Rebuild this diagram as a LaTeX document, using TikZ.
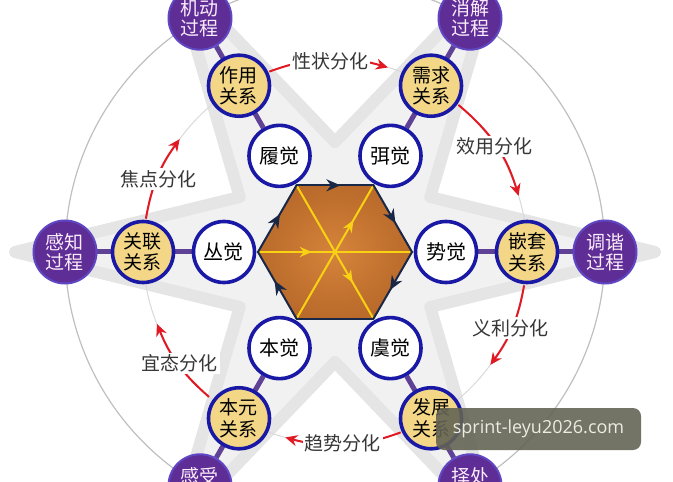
\documentclass[tikz,border=0pt]{standalone}
\usepackage{fontspec}
\newfontfamily\cjk{Noto Sans CJK SC}
\newfontfamily\wmfont{Open Sans}
\usetikzlibrary{arrows.meta,decorations.markings,backgrounds}

\definecolor{jueblue}{RGB}{25,25,165}
\definecolor{gxyellow}{RGB}{243,215,135}
\definecolor{gcpurple}{RGB}{95,45,150}
\definecolor{gcedge}{RGB}{95,70,195}
\definecolor{gctext}{RGB}{250,236,250}
\definecolor{spokepurple}{RGB}{95,65,150}
\definecolor{hexin}{RGB}{212,132,58}
\definecolor{hexout}{RGB}{186,106,42}
\definecolor{hexedge}{RGB}{25,40,70}
\definecolor{hexyellow}{RGB}{250,210,20}
\definecolor{redarrow}{RGB}{225,25,35}
\definecolor{labelgray}{RGB}{55,55,55}
\definecolor{wmgray}{RGB}{100,100,85}
\definecolor{wmtext}{RGB}{236,236,226}

\begin{document}
\begin{tikzpicture}[x=0.5pt,y=0.5pt,
		jue/.style={circle,draw=jueblue,line width=1.8pt,fill=white,minimum size=30.5pt,inner sep=0pt,font=\cjk\fontsize{10}{11}\selectfont},
		guanxi/.style={jue,fill=gxyellow,align=center,font=\cjk\fontsize{9.5}{10.8}\selectfont},
		guocheng/.style={circle,draw=gcedge,line width=1pt,fill=gcpurple,text=gctext,minimum size=31.5pt,inner sep=0pt,align=center,font=\cjk\fontsize{9.5}{10}\selectfont},
		fenhua/.style={fill=white,inner sep=1pt,text=labelgray,font=\cjk\fontsize{9.5}{10}\selectfont},
		fenhuaarrow/.style={draw=redarrow,line width=1pt,-{Stealth[length=6pt,width=5.5pt]}},
		spoke/.style={draw=spokepurple,line width=2.5pt},
		hexside/.style={draw=hexedge,line width=1pt,line cap=round,postaction={decorate},
			decoration={markings,mark=at position 0.57 with {\arrow[color=hexedge]{Stealth[length=7pt,width=6pt]}}}},
		hexray/.style={draw=hexyellow,line width=1pt,postaction={decorate},
			decoration={markings,mark=at position #1 with {\arrow[color=hexyellow]{Stealth[length=6pt,width=5pt]}}}},
		wm/.style={fill=wmgray,fill opacity=0.9,text opacity=1,text=wmtext,rounded corners=4pt,minimum width=102.5pt,minimum height=21pt,font=\wmfont\fontsize{9}{10}\selectfont}
	]
	\useasboundingbox (-335,-229) rectangle (338,252);

	\shade[inner color=hexin,outer color=hexout] (0:77) \foreach \a in {60,120,...,300}{ -- (\a:77)} -- cycle;
	\draw[hexray=0.35] (180:77) -- (0:77);
	\draw[hexray=0.74] (-120:77) -- (60:77);
	\draw[hexray=0.73] (120:77) -- (-60:77);
	\foreach \a in {180,120,60,0,-120}
		\draw[hexside] (\a:77) -- ({\a-60}:77);
	\draw[hexedge,line width=1pt,line cap=round] (-60:77) -- (-120:77);

	\foreach \a/\j/\g/\p/\q [count=\n] in {0/势觉/嵌套/调谐/过程, 60/弭觉/需求/消解/过程, 120/履觉/作用/机动/过程,
			180/丛觉/关联/感知/过程, 240/本觉/本元/感受/\phantom{过程}, 300/虞觉/发展/择处/\phantom{过程}}{
		\node[jue] (jue\n) at (\a:111) {\j};
		\node[guanxi] (guanxi\n) at (\a:192) {\g\\关系};
		\node[guocheng] (guocheng\n) at (\a:270) {\p\\\q};
	}

	\foreach \s/\e/\l/\t [count=\i] in {110/74/91.5/性状分化, 50/17/33.6/效用分化, -10/-36/-23.5/义利分化,
			-70/-105/-87.6/趋势分化, 229/202/215.7/宜态分化, 170/144/157.6/焦点分化}{
		\pgfmathsetmacro\bend{(\s-\e)/2}
		\coordinate (fs\i) at (\s:192);
		\coordinate (fe\i) at (\e:192);
		\draw[fenhuaarrow] (fs\i) to[bend left=\bend] (fe\i);
		\node[fenhua] (fh\i) at (\l:191) {\t};
	}

	\begin{scope}[on background layer]
		\filldraw[fill=gray!11,draw=gray!20,line width=6pt,line join=round]
			(0:320) \foreach \a in {30,90,...,330}{ -- (\a:110) -- ({\a+30}:320)} -- cycle;
		\draw[gray!50,line width=0.6pt] (0,0) circle[radius=270];
		\draw[gray!30,line width=0.5pt] (0,0) circle[radius=192];
		\foreach \n in {1,...,6}
			\draw[spoke] (jue\n) -- (guocheng\n);
	\end{scope}

	\node[wm] (wm) at (203.5,-177) {sprint-leyu2026.com};
\end{tikzpicture}
\end{document}
